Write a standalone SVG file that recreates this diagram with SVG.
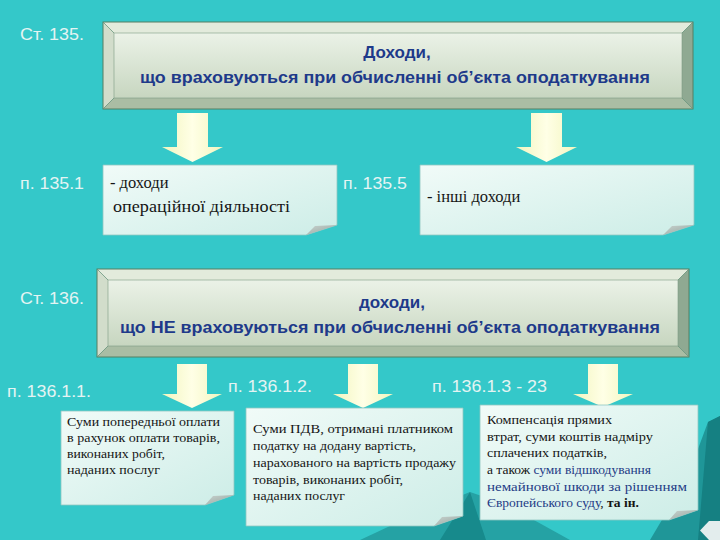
<svg xmlns="http://www.w3.org/2000/svg" width="720" height="540" viewBox="0 0 720 540">
<defs>
<linearGradient id="face" x1="0" y1="0" x2="0" y2="1">
<stop offset="0" stop-color="#EBF2E7"/>
<stop offset="1" stop-color="#C7D6C0"/>
</linearGradient>
<linearGradient id="note" x1="0" y1="0" x2="1" y2="1">
<stop offset="0" stop-color="#F1FBF8"/>
<stop offset="1" stop-color="#CDEDE7"/>
</linearGradient>
<linearGradient id="arr" x1="0" y1="0" x2="1" y2="0">
<stop offset="0" stop-color="#F2F5BE"/>
<stop offset="0.5" stop-color="#FFFFE6"/>
<stop offset="1" stop-color="#F2F5BE"/>
</linearGradient>
<linearGradient id="fold" x1="0" y1="0" x2="1" y2="1">
<stop offset="0" stop-color="#C9D3CF"/>
<stop offset="1" stop-color="#93A49E"/>
</linearGradient>
</defs>
<style>
.lbl{font-family:"Liberation Sans Narrow","Liberation Sans",Arial,sans-serif;font-size:17px;fill:#E4F4F3}
.ttl{font-family:"Liberation Sans",Arial,sans-serif;font-weight:bold;fill:#1E3A8A;text-anchor:middle}
.body{font-family:"Liberation Serif","Times New Roman",serif;fill:#151515}
.b16{font-size:16.5px}
.b13{font-size:13.5px}
.blue{fill:#1F3C86}
.bv-t{fill:#E3EBDC}
.bv-l{fill:#D2DDCB}
.bv-r{fill:#8FA992}
.bv-b{fill:#AABDA4}
.edge{fill:none;stroke:#557F62;stroke-width:1}
.inner{fill:url(#face);stroke:#7E9C84;stroke-width:0.6}
.note{fill:url(#note);stroke:#8FC6C1;stroke-width:0.8}
.foldc{fill:url(#fold)}
.arrow{fill:url(#arr)}
</style>
<rect width="720" height="540" fill="#34C8C9"/>
<g id="scenery">
<polygon points="360,540 420,512 470,492 505,504 570,540" fill="#25A2A4"/>
<polygon points="440,540 470,492 486,540" fill="#178A8C"/>
<polygon points="650,540 688,476 708,422 720,416 720,540" fill="#1F9698"/>
<polygon points="698,540 708,422 720,416 720,540" fill="#158082"/>
<path d="M720,521 H709 L700,530.5 L709,540 H720 Z" fill="#E3EDED"/>
</g>
<g id="connectors">
<path class="arrow" d="M177,113 H208 V147 H223 L192.5,162 L162,147 H177 Z"/>
<path class="arrow" d="M531,113 H562 V147 H577 L546.5,162 L516,147 H531 Z"/>
<path class="arrow" d="M177,364 H207 V394 H222 L192,408 L162,394 H177 Z"/>
<path class="arrow" d="M348,364 H378 V394 H393 L363,408 L333,394 H348 Z"/>
<path class="arrow" d="M588,364 H618 V394 H633 L603,407 L573,394 H588 Z"/>
</g>
<g id="lbl-st135"><text class="lbl" x="20" y="40" textLength="64" lengthAdjust="spacingAndGlyphs">Ст. 135.</text></g>
<g id="node-income">
<polygon class="bv-t" points="103,22 693,22 682,33 114,33"/>
<polygon class="bv-l" points="103,22 114,33 114,98 103,109"/>
<polygon class="bv-r" points="693,22 693,109 682,98 682,33"/>
<polygon class="bv-b" points="103,109 114,98 682,98 693,109"/>
<rect class="inner" x="114" y="33" width="568" height="65"/>
<rect class="edge" x="103" y="22" width="590" height="87"/>
<path d="M103,22 L114,33 M693,22 L682,33 M103,109 L114,98 M693,109 L682,98" stroke="#6F8F76" stroke-width="0.7"/>
<text class="ttl" x="397" y="58" font-size="17">Доходи,</text>
<text class="ttl" x="395" y="83" font-size="16" textLength="510" lengthAdjust="spacingAndGlyphs">що враховуються при обчисленні об’єкта оподаткування</text>
</g>
<g id="lbl-1351"><text class="lbl" x="20" y="189" textLength="64" lengthAdjust="spacingAndGlyphs">п. 135.1</text></g>
<g id="lbl-1355"><text class="lbl" x="343" y="189" textLength="64" lengthAdjust="spacingAndGlyphs">п. 135.5</text></g>
<g id="node-operating">
<path class="note" d="M103,165 H337 V225 L306,235 H103 Z"/>
<path class="foldc" d="M306,235 L315,226 L337,225 Z"/>
<text class="body b16" x="110" y="188">- доходи</text>
<text class="body b16" x="113" y="212" textLength="177" lengthAdjust="spacingAndGlyphs">операційної діяльності</text>
</g>
<g id="node-other">
<path class="note" d="M420,165 H694 V225 L663,235 H420 Z"/>
<path class="foldc" d="M663,235 L672,226 L694,225 Z"/>
<text class="body b16" x="427" y="202">- інші доходи</text>
</g>
<g id="lbl-st136"><text class="lbl" x="20" y="304" textLength="64" lengthAdjust="spacingAndGlyphs">Ст. 136.</text></g>
<g id="node-notincome">
<polygon class="bv-t" points="97,269 689,269 678,280 108,280"/>
<polygon class="bv-l" points="97,269 108,280 108,346 97,357"/>
<polygon class="bv-r" points="689,269 689,357 678,346 678,280"/>
<polygon class="bv-b" points="97,357 108,346 678,346 689,357"/>
<rect class="inner" x="108" y="280" width="570" height="66"/>
<rect class="edge" x="97" y="269" width="592" height="88"/>
<path d="M97,269 L108,280 M689,269 L678,280 M97,357 L108,346 M689,357 L678,346" stroke="#6F8F76" stroke-width="0.7"/>
<text class="ttl" x="392" y="308" font-size="17">доходи,</text>
<text class="ttl" x="390" y="333" font-size="16" textLength="540" lengthAdjust="spacingAndGlyphs">що НЕ враховуються при обчисленні об’єкта оподаткування</text>
</g>
<g id="lbl-13611"><text class="lbl" x="7" y="397" textLength="84" lengthAdjust="spacingAndGlyphs">п. 136.1.1.</text></g>
<g id="lbl-13612"><text class="lbl" x="228" y="392" textLength="84" lengthAdjust="spacingAndGlyphs">п. 136.1.2.</text></g>
<g id="lbl-13613"><text class="lbl" x="432" y="392" textLength="115" lengthAdjust="spacingAndGlyphs">п. 136.1.3 - 23</text></g>
<g id="node-prepay">
<path class="note" d="M61,411 H234 V495 L205,505 H61 Z"/>
<path class="foldc" d="M205,505 L213,496 L234,495 Z"/>
<text class="body b13" x="67" y="426" textLength="153" lengthAdjust="spacingAndGlyphs">Суми попередньої оплати</text>
<text class="body b13" x="67" y="442" textLength="153" lengthAdjust="spacingAndGlyphs">в рахунок оплати товарів,</text>
<text class="body b13" x="67" y="458" textLength="98" lengthAdjust="spacingAndGlyphs">виконаних робіт,</text>
<text class="body b13" x="67" y="474" textLength="93" lengthAdjust="spacingAndGlyphs">наданих послуг</text>
</g>
<g id="node-vat">
<path class="note" d="M246,408 H463 V516 L434,526 H246 Z"/>
<path class="foldc" d="M434,526 L442,517 L463,516 Z"/>
<text class="body b13" x="253" y="433" textLength="200" lengthAdjust="spacingAndGlyphs">Суми ПДВ, отримані платником</text>
<text class="body b13" x="253" y="450" textLength="163" lengthAdjust="spacingAndGlyphs">податку на додану вартість,</text>
<text class="body b13" x="253" y="467" textLength="203" lengthAdjust="spacingAndGlyphs">нарахованого на вартість продажу</text>
<text class="body b13" x="253" y="484" textLength="150" lengthAdjust="spacingAndGlyphs">товарів, виконаних робіт,</text>
<text class="body b13" x="253" y="500" textLength="92" lengthAdjust="spacingAndGlyphs">наданих послуг</text>
</g>
<g id="node-compensation">
<path class="note" d="M480,405 H698 V510 L669,520 H480 Z"/>
<path class="foldc" d="M669,520 L677,511 L698,510 Z"/>
<text class="body b13" x="487" y="424" textLength="125" lengthAdjust="spacingAndGlyphs">Компенсація прямих</text>
<text class="body b13" x="487" y="441" textLength="166" lengthAdjust="spacingAndGlyphs">втрат,  суми коштів надміру</text>
<text class="body b13" x="487" y="457" textLength="120" lengthAdjust="spacingAndGlyphs">сплачених податків,</text>
<text class="body b13" x="487" y="474">а також <tspan class="blue">суми відшкодування</tspan></text>
<text class="body b13 blue" x="487" y="491" textLength="200" lengthAdjust="spacingAndGlyphs">немайнової шкоди за рішенням</text>
<text class="body b13" x="487" y="507"><tspan class="blue">Європейського суду</tspan>,  <tspan font-weight="bold">та ін.</tspan></text>
</g>
</svg>
